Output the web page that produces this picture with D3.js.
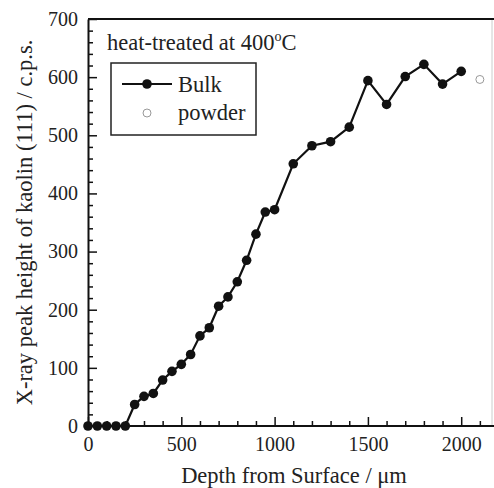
<!DOCTYPE html>
<html>
<head>
<meta charset="utf-8">
<script src="https://cdn.jsdelivr.net/npm/d3@7"></script>
<style>
  body { margin: 0; background: #fff; }
  svg text { font-family: "Liberation Serif", "Times New Roman", serif !important; fill: #222; }
</style>
</head>
<body>
<div id="chart"></div>
<script>
// depth (um) and peak height (c.p.s.)
var bulkDepth = [0, 50, 100, 150, 200, 250, 300, 350, 400, 450, 500, 550, 600, 650, 700, 750, 800, 850,
                 900, 950, 1000, 1100, 1200, 1300, 1400, 1500, 1600, 1700, 1800, 1900, 2000];
var bulkHeight = [0, 0, 0, 0, 0, 37, 51, 56, 79, 94, 106, 123, 155, 169, 206, 222, 248, 285,
                  330, 368, 372, 451, 482, 489, 514, 594, 553, 601, 622, 588, 610];
var powderDepth = [2100];
var powderHeight = [596];
var xTicks = [0, 500, 1000, 1500, 2000];
var yTicks = [0, 100, 200, 300, 400, 500, 600, 700];

var bulk = bulkDepth.map(function(d, i) { return {x: d, y: bulkHeight[i]}; });
var powder = powderDepth.map(function(d, i) { return {x: d, y: powderHeight[i]}; });

var W = 494, H = 488;
var margin = {top: 19, right: 2, bottom: 62, left: 88};
var width = W - margin.left - margin.right,
    height = H - margin.top - margin.bottom;
var labelSize = "22.5px";

var svg = d3.select("#chart").append("svg")
  .attr("width", W).attr("height", H)
  .attr("font-family", "Liberation Serif");
var g = svg.append("g")
  .attr("transform", "translate(" + margin.left + "," + margin.top + ")");

var x = d3.scaleLinear().domain([0, 2165]).range([0, width]);
var y = d3.scaleLinear().domain([0, 700]).range([height, 0]);

// right border is faint in the original
g.append("line")
  .attr("x1", width).attr("x2", width).attr("y1", 0).attr("y2", height)
  .attr("stroke", "#ccc").attr("stroke-width", 1);
g.append("line")
  .attr("x1", 0).attr("x2", W - margin.left).attr("y1", 0).attr("y2", 0)
  .attr("stroke", "#111").attr("stroke-width", 2);

// minor ticks
var xMinor = d3.range(0, 2200, 100).filter(function(v) { return v % 500 !== 0; });
var yMinor = d3.range(0, 701, 20).filter(function(v) { return v % 100 !== 0; });

g.append("g")
  .attr("transform", "translate(0," + height + ")")
  .call(d3.axisBottom(x).tickValues(xMinor).tickSize(-5).tickFormat(""))
  .call(function(s) { s.select(".domain").remove(); });
g.append("g")
  .call(d3.axisLeft(y).tickValues(yMinor).tickSize(-5).tickFormat(""))
  .call(function(s) { s.select(".domain").remove(); });

// major axes
var xAxis = g.append("g")
  .attr("transform", "translate(0," + height + ")")
  .call(d3.axisBottom(x).tickValues(xTicks).tickFormat(d3.format("d"))
    .tickSize(-9).tickPadding(11).tickSizeOuter(0));
var yAxis = g.append("g")
  .call(d3.axisLeft(y).tickValues(yTicks).tickFormat(d3.format("d"))
    .tickSize(-9).tickPadding(10).tickSizeOuter(0));

[xAxis, yAxis].forEach(function(a) {
  a.attr("font-family", null).attr("font-size", null);
  a.selectAll("text").style("font-size", "20px").attr("fill", "#222");
  a.select(".domain").attr("stroke", "#111").attr("stroke-width", 2);
});
g.selectAll(".tick line").attr("stroke", "#111").attr("stroke-width", 1.5);
xAxis.select(".domain").attr("d", "M0,0H" + (W - margin.left));

// axis titles
g.append("text")
  .attr("x", width / 2 + 4).attr("y", height + 57)
  .attr("text-anchor", "middle")
  .style("font-size", labelSize)
  .text("Depth from Surface / \u03bcm");

g.append("text")
  .attr("transform", "rotate(-90)")
  .attr("x", -height / 2).attr("y", -56)
  .attr("text-anchor", "middle")
  .style("font-size", labelSize)
  .text("X-ray peak height of kaolin (111) / c.p.s.");

// bulk line + points
var line = d3.line()
  .x(function(d) { return x(d.x); })
  .y(function(d) { return y(d.y); });

g.append("path")
  .datum(bulk)
  .attr("d", line)
  .attr("fill", "none")
  .attr("stroke", "#111")
  .attr("stroke-width", 2.2);

g.selectAll(".bulkdot")
  .data(bulk)
  .enter().append("circle")
  .attr("cx", function(d) { return x(d.x); })
  .attr("cy", function(d) { return y(d.y); })
  .attr("r", 4.8)
  .attr("fill", "#111");

g.selectAll(".powderdot")
  .data(powder)
  .enter().append("circle")
  .attr("cx", function(d) { return x(d.x); })
  .attr("cy", function(d) { return y(d.y); })
  .attr("r", 4)
  .attr("fill", "none")
  .attr("stroke", "#999")
  .attr("stroke-width", 1);

// annotation
g.append("text")
  .attr("x", 19).attr("y", 31)
  .style("font-size", labelSize)
  .html("heat-treated at 400<tspan dy='-9' font-size='14px'>o</tspan><tspan dy='9'>C</tspan>");

// legend
var lg = g.append("g").attr("transform", "translate(23,44)");
lg.append("rect")
  .attr("width", 145).attr("height", 72)
  .attr("fill", "#fff").attr("stroke", "#222").attr("stroke-width", 1.5);
lg.append("line")
  .attr("x1", 11).attr("x2", 61).attr("y1", 21).attr("y2", 21)
  .attr("stroke", "#111").attr("stroke-width", 2.2);
lg.append("circle").attr("cx", 36).attr("cy", 21).attr("r", 4.8).attr("fill", "#111");
lg.append("text").attr("x", 67).attr("y", 29).style("font-size", labelSize).text("Bulk");
lg.append("circle").attr("cx", 36).attr("cy", 50).attr("r", 4)
  .attr("fill", "none").attr("stroke", "#999").attr("stroke-width", 1);
lg.append("text").attr("x", 67).attr("y", 57).style("font-size", labelSize).text("powder");
</script>
</body>
</html>
